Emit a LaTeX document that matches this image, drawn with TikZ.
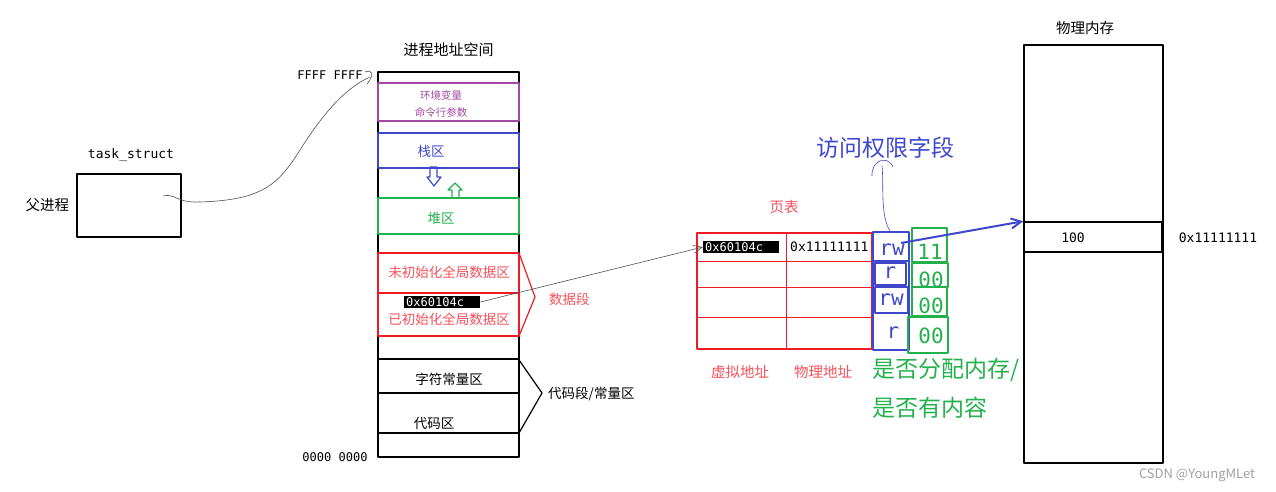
\documentclass[tikz,border=0pt]{standalone}
\usepackage{fontspec}
\setmainfont{Noto Sans CJK SC}
\setmonofont{DejaVu Sans Mono}
\usepackage{tikz}
\usetikzlibrary{calc, math}
\usetikzlibrary{arrows, arrows.meta}
\usetikzlibrary{positioning}
\definecolor{stackcolor}{RGB}{63,72,204}
\definecolor{heapcolor}{RGB}{34,177,76}
\definecolor{datacolor}{RGB}{237,28,36}
\definecolor{datatext}{RGB}{245,80,90}
\definecolor{envcolor}{RGB}{163,73,164}
\definecolor{pencolor}{RGB}{80,80,80}
\definecolor{markcolor}{RGB}{160,160,160}

\tikzset{
  txt/.style={inner sep=0, font=\fontsize{13.5}{16}\selectfont},
  titletxt/.style={inner sep=0, font=\fontsize{15}{18}\selectfont},
  smalltxt/.style={inner sep=0, font=\fontsize{10.5}{12}\selectfont},
  hugetxt/.style={inner sep=0, font=\fontsize{23}{26}\selectfont},
  monotxt/.style={inner sep=0, font=\ttfamily\fontsize{13}{15}\selectfont},
  bigmono/.style={inner sep=0, font=\ttfamily\fontsize{21}{24}\selectfont},
  addrbox/.style={fill=black, text=white, anchor=west, text width=72pt, align=left,
    inner xsep=2pt, inner ysep=1pt, font=\ttfamily\fontsize{12}{13}\selectfont},
}

\begin{document}
\begin{tikzpicture}[x=1pt, y=-1pt, line join=round]
  \tikzmath{
    \xmin=378;
    \xmax=519;
    \ymin=72;
    \ymax=457;
    \xmid=0.5 * \xmin + 0.5 * \xmax;
    \pxmin=1024;
    \pxmax=1163;
    \pymin=45;
    \pymax=463;
  }
  \useasboundingbox (0,0) rectangle (1276,492);

  % Process address space
  \draw[line width=1.5] (\xmin, \ymin) rectangle (\xmax, \ymax);
  \node[titletxt] (space) at (\xmid, 50) {进程地址空间};
  \node[monotxt, font=\ttfamily\fontsize{12}{14}\selectfont] (top) at (330, 75) {FFFF FFFF};
  \node[monotxt, font=\ttfamily\fontsize{12}{14}\selectfont] (bottom) at (335, 457) {0000 0000};

  \draw[envcolor, line width=1.2] (\xmin, 83) rectangle (\xmax, 121);
  \node[smalltxt, text=envcolor] (env) at (441, 95) {环境变量};
  \node[smalltxt, text=envcolor] (argv) at (441, 112) {命令行参数};

  \draw[stackcolor, line width=1.2] (\xmin, 133) rectangle (\xmax, 168);
  \node[txt, text=stackcolor] (stack) at (431, 151) {栈区};
  \draw[stackcolor, line width=1.2] (430, 167) -- (437, 167) -- (437, 177) -- (441, 177) -- (434, 186) -- (427, 177) -- (430, 177) -- cycle;

  \draw[heapcolor, line width=1.2] (\xmin, 198) rectangle (\xmax, 234);
  \node[txt, text=heapcolor] (heap) at (441, 218) {堆区};
  \draw[heapcolor, line width=1.2] (452, 198) -- (452, 190) -- (448, 190) -- (455, 183) -- (462, 190) -- (459, 190) -- (459, 198);

  % Data segment
  \draw[datacolor, line width=1.5] (\xmin, 253) rectangle (\xmax, 336);
  \draw[datacolor, line width=1.2] (\xmin, 293) -- (\xmax, 293);
  \node[txt, text=datatext] (bss) at (449, 272) {未初始化全局数据区};
  \node[addrbox] (varaddr) at (404, 302) {0x60104c};
  \node[txt, text=datatext] (data) at (449, 319) {已初始化全局数据区};
  \draw[datacolor, line width=1.2] (\xmax, 253) -- (535, 297) -- (\xmax, 336);
  \node[txt, text=datatext, anchor=west] (dataseg) at (549, 299) {数据段};

  % Code segment
  \draw[line width=1.5] (\xmin, 359) rectangle (\xmax, 393);
  \draw[line width=1.5] (\xmin, 393) rectangle (\xmax, 433);
  \node[txt] (rodata) at (449, 379) {字符常量区};
  \node[txt] (code) at (434, 423) {代码区};
  \draw[line width=1.2] (\xmax, 360) -- (542, 393) -- (\xmax, 433);
  \node[txt, anchor=west] (codeseg) at (548, 394) {代码段/常量区};

  % task_struct
  \node[draw, line width=1.5, minimum width=104, minimum height=63, inner sep=0] (task) at (129, 205.5) {};
  \node[monotxt] (taskname) at (131, 155) {task\_struct};
  \node[titletxt, font=\fontsize{14.5}{17}\selectfont, left=7pt of task] (parent) {父进程};
  \coordinate (pen) at (163, 196);
  \coordinate (hook) at (370, 77);
  \draw[pencolor, line width=0.6] (pen) .. controls (175, 193) and (176, 203) .. (200, 202) .. controls (262, 200) and (278, 185) .. (300, 150) .. controls (322, 115) and (345, 88) .. (hook);
  \draw[pencolor, line width=0.6] (365, 72) .. controls (372, 69) and (375, 74) .. (367, 84);

  % Page table
  \node[titletxt, font=\fontsize{14.5}{17}\selectfont, text=datatext] (table) at (784, 207) {页表};
  \draw[datacolor, line width=1.5] (697, 233) rectangle (872, 349);
  \draw[datacolor, line width=1] (786, 233) -- (786, 349);
  \foreach \y in {261, 287, 317}
    \draw[datacolor, line width=1] (697, \y) -- (872, \y);
  \node[addrbox] (entryvirt) at (703, 247) {0x60104c};
  \begin{scope}
    \clip (787, 234) rectangle (871, 260);
    \node[monotxt, anchor=west] (entryphys) at (790, 247) {0x11111111};
  \end{scope}
  \node[titletxt, font=\fontsize{14.5}{17}\selectfont, text=datatext] (virtname) at (740, 372) {虚拟地址};
  \node[titletxt, font=\fontsize{14.5}{17}\selectfont, text=datatext] (physname) at (823, 372) {物理地址};
  \draw[pencolor, line width=0.6, -{Straight Barb[length=9pt, width=8pt]}] (varaddr.east) -- (entryvirt.west);

  % Access rights and valid bits
  \draw[stackcolor, line width=2] (873, 232) rectangle (909, 350);
  \draw[stackcolor, line width=2] (873, 261) -- (909, 261);
  \draw[stackcolor, line width=2] (875, 263) rectangle (906, 285);
  \draw[stackcolor, line width=2] (875, 287) rectangle (908, 313);
  \node[bigmono, text=stackcolor] (rw1) at (892, 250) {rw};
  \node[bigmono, text=stackcolor] (r2) at (890, 273) {r};
  \node[bigmono, text=stackcolor] (rw3) at (891, 300) {rw};
  \node[bigmono, text=stackcolor] (r4) at (893, 333) {r};

  \draw[heapcolor, line width=2] (912, 228) rectangle (947, 262);
  \draw[heapcolor, line width=2] (912, 263) rectangle (948, 287);
  \draw[heapcolor, line width=2] (912, 287) rectangle (947, 316);
  \draw[heapcolor, line width=2] (908, 317) rectangle (948, 353);
  \node[bigmono, text=heapcolor] (bit1) at (930, 252) {11};
  \node[bigmono, text=heapcolor] (bit2) at (931, 280) {00};
  \node[bigmono, text=heapcolor] (bit3) at (931, 306) {00};
  \node[bigmono, text=heapcolor] (bit4) at (931, 336) {00};

  \node[hugetxt, text=stackcolor] (access) at (885, 148) {访问权限字段};
  \draw[stackcolor, line width=0.6] (890, 231) .. controls (880, 215) and (884, 185) .. (882, 166);
  \draw[stackcolor, line width=0.6] (872, 176) .. controls (871, 161) and (887, 154) .. (893, 167);
  \node[hugetxt, text=heapcolor, anchor=west] (alloc) at (872, 370) {是否分配内存/};
  \node[hugetxt, text=heapcolor, anchor=west] (content) at (872, 408) {是否有内容};

  % Physical memory
  \node[titletxt, font=\fontsize{14.5}{17}\selectfont] (mem) at (1085, 28) {物理内存};
  \draw[line width=1.5] (\pxmin, \pymin) rectangle (\pxmax, \pymax);
  \node[draw, line width=1.5, minimum width=138, minimum height=30, inner sep=0] (cell) at (1093, 237) {};
  \node[monotxt] (cellval) at (1073, 238) {100};
  \node[monotxt] (celladdr) at (1218, 238) {0x11111111};
  \coordinate (from) at (901, 243);
  \draw[stackcolor, line width=2, -{Straight Barb[length=10pt, width=10pt]}] (from) -- (cell.north west);

  \node[txt, font=\fontsize{13}{15}\selectfont, text=markcolor] (mark) at (1197, 475) {CSDN @YoungMLet};
\end{tikzpicture}
\end{document}
